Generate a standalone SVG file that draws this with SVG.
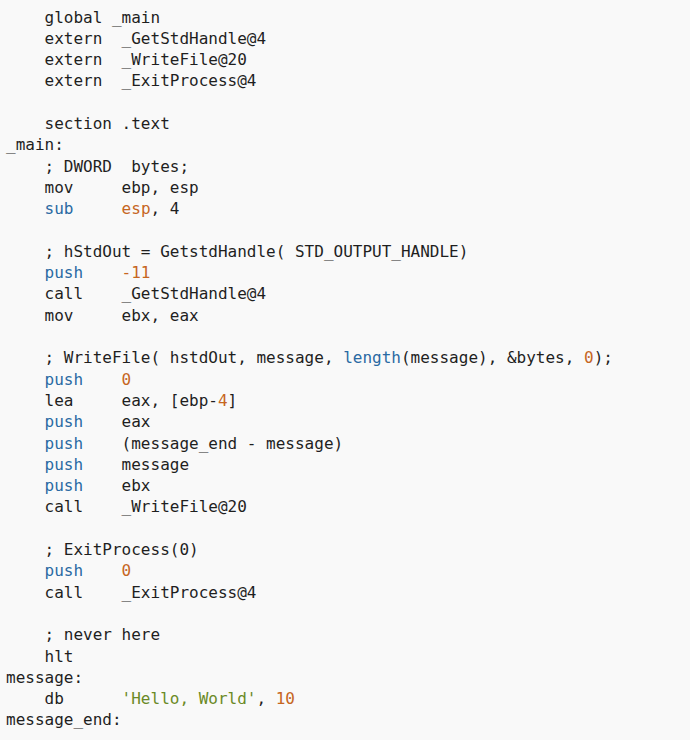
<svg xmlns="http://www.w3.org/2000/svg" width="690" height="740" viewBox="0 0 690 740">
<style>
text{font-family:"DejaVu Sans Mono","Liberation Mono",monospace;font-size:16px;fill:#1f1f1f;white-space:pre}
.k{fill:#2a6aa3}
.n{fill:#c6661f}
.s{fill:#6b8a26}
</style>
<rect width="690" height="740" fill="#f9f9f9"/>
<g id="code" xml:space="preserve">
<text x="6" y="22.5">    global _main</text>
<text x="6" y="43.8">    extern  _GetStdHandle@4</text>
<text x="6" y="65.1">    extern  _WriteFile@20</text>
<text x="6" y="86.4">    extern  _ExitProcess@4</text>
<text x="6" y="129">    section .text</text>
<text x="6" y="150.3">_main:</text>
<text x="6" y="171.6">    ; DWORD  bytes;</text>
<text x="6" y="192.9">    mov     ebp, esp</text>
<text x="6" y="214.2">    <tspan class="k">sub</tspan>     <tspan class="n">esp</tspan>, 4</text>
<text x="6" y="256.8">    ; hStdOut = GetstdHandle( STD_OUTPUT_HANDLE)</text>
<text x="6" y="278.1">    <tspan class="k">push</tspan>    <tspan class="n">-11</tspan></text>
<text x="6" y="299.4">    call    _GetStdHandle@4</text>
<text x="6" y="320.7">    mov     ebx, eax</text>
<text x="6" y="363.3">    ; WriteFile( hstdOut, message, <tspan class="k">length</tspan>(message), &amp;bytes, <tspan class="n">0</tspan>);</text>
<text x="6" y="384.6">    <tspan class="k">push</tspan>    <tspan class="n">0</tspan></text>
<text x="6" y="405.9">    lea     eax, [ebp-<tspan class="n">4</tspan>]</text>
<text x="6" y="427.2">    <tspan class="k">push</tspan>    eax</text>
<text x="6" y="448.5">    <tspan class="k">push</tspan>    (message_end - message)</text>
<text x="6" y="469.8">    <tspan class="k">push</tspan>    message</text>
<text x="6" y="491.1">    <tspan class="k">push</tspan>    ebx</text>
<text x="6" y="512.4">    call    _WriteFile@20</text>
<text x="6" y="555">    ; ExitProcess(0)</text>
<text x="6" y="576.3">    <tspan class="k">push</tspan>    <tspan class="n">0</tspan></text>
<text x="6" y="597.6">    call    _ExitProcess@4</text>
<text x="6" y="640.2">    ; never here</text>
<text x="6" y="661.5">    hlt</text>
<text x="6" y="682.8">message:</text>
<text x="6" y="704.1">    db      <tspan class="s">'Hello, World'</tspan>, <tspan class="n">10</tspan></text>
<text x="6" y="725.4">message_end:</text>
</g>
</svg>
